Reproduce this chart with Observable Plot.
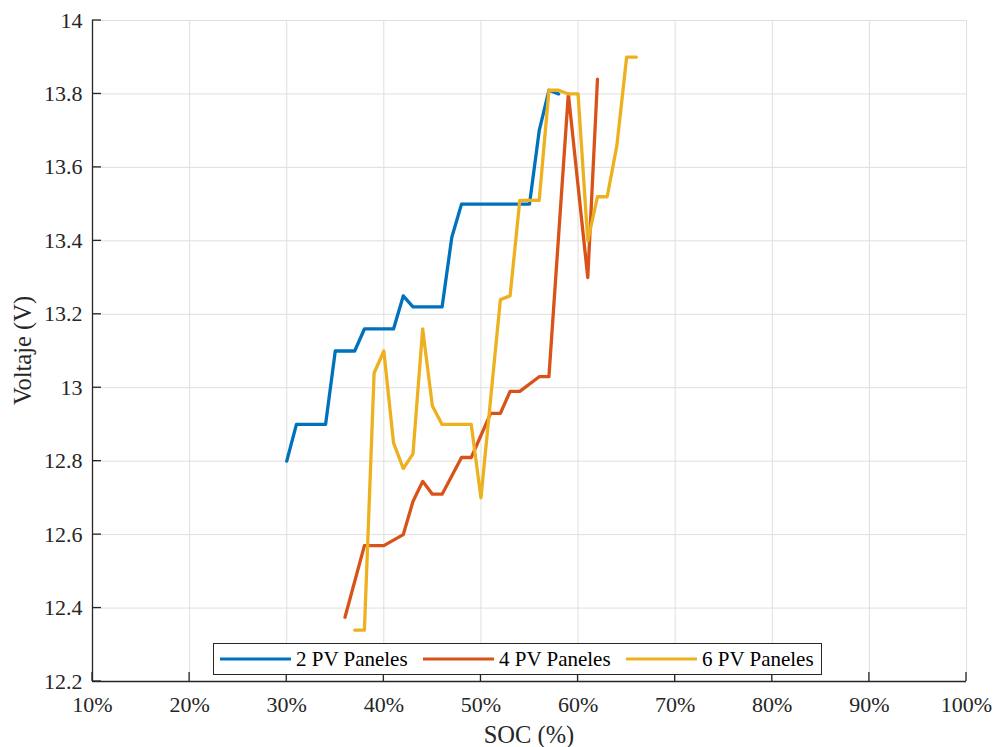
<!DOCTYPE html>
<html><head><meta charset="utf-8">
<script src="https://cdn.jsdelivr.net/npm/d3@7"></script>
<script src="https://cdn.jsdelivr.net/npm/@observablehq/plot@0.6"></script>
<style>
body{margin:0;background:#fff}
</style>
</head><body><div id="chart"></div>
<script>
const series = ["2 PV Paneles", "4 PV Paneles", "6 PV Paneles"];
const colors = ["#0072BD", "#D95319", "#EDB120"];

const soc2 = [30, 31, 34, 35, 37, 38, 41, 42, 43, 46, 47, 48, 55, 56, 57, 58];
const v2   = [12.80, 12.90, 12.90, 13.10, 13.10, 13.16, 13.16, 13.25, 13.22, 13.22, 13.41, 13.50, 13.50, 13.70, 13.81, 13.80];

const soc4 = [36, 38, 40, 42, 43, 44, 45, 46, 48, 49, 51, 52, 53, 54, 56, 57, 59, 61, 62];
const v4   = [12.375, 12.57, 12.57, 12.60, 12.69, 12.745, 12.71, 12.71, 12.81, 12.81, 12.93, 12.93, 12.99, 12.99, 13.03, 13.03, 13.80, 13.30, 13.84];

const soc6 = [37, 38, 39, 40, 41, 42, 43, 44, 45, 46, 49, 50, 52, 53, 54, 56, 57, 58, 59, 60, 61, 62, 63, 64, 65, 66];
const v6   = [12.34, 12.34, 13.04, 13.10, 12.85, 12.78, 12.82, 13.16, 12.95, 12.90, 12.90, 12.70, 13.24, 13.25, 13.51, 13.51, 13.81, 13.81, 13.80, 13.80, 13.40, 13.52, 13.52, 13.66, 13.90, 13.90];

const xTicks = [10, 20, 30, 40, 50, 60, 70, 80, 90, 100];
const yTicks = [12.2, 12.4, 12.6, 12.8, 13, 13.2, 13.4, 13.6, 13.8, 14];

const xLabel = "SOC (%)";
const yLabel = "Voltaje (V)";

const socs = [soc2, soc4, soc6];
const volts = [v2, v4, v6];
const data = series.flatMap((s, i) => socs[i].map((x, j) => ({series: s, soc: x, v: volts[i][j]})));

const axisColor = "#262626";
const gridColor = "#dfdfdf";
const FONT = "Liberation Serif, DejaVu Serif, serif";

const plot = Plot.plot({
  width: 994,
  height: 747,
  marginLeft: 92,
  marginRight: 28,
  marginTop: 20,
  marginBottom: 66,
  style: {background: "#fff"},
  x: {domain: [10, 100]},
  y: {domain: [12.2, 14]},
  color: {domain: series, range: colors},
  marks: [
    Plot.gridX(xTicks, {stroke: gridColor, strokeOpacity: 1}),
    Plot.gridY(yTicks, {stroke: gridColor, strokeOpacity: 1}),
    Plot.axisX(xTicks, {tickSize: 0, tickPadding: 15, tickFormat: d => d + "%", fontSize: 22, fill: axisColor, label: null}),
    Plot.axisY(yTicks, {tickSize: 0, tickPadding: 10, tickFormat: d3.format("~g"), fontSize: 22, fill: axisColor, label: null}),
    Plot.line(data, {x: "soc", y: "v", z: "series", stroke: "series", strokeWidth: 3.3, strokeLinejoin: "round"}),
    Plot.ruleX([10], {stroke: axisColor, strokeWidth: 1.3}),
    Plot.ruleY([12.2], {stroke: axisColor, strokeWidth: 1.3})
  ]
});

document.getElementById("chart").appendChild(plot);

const svg = d3.select(plot);
const sx = v => plot.scale("x").apply(v);
const sy = v => plot.scale("y").apply(v);
const x0 = sx(10), y0 = sy(12.2);

// inward ticks
const tg = svg.append("g").attr("stroke", axisColor).attr("stroke-width", 1.3);
xTicks.forEach(t => tg.append("line").attr("x1", sx(t)).attr("x2", sx(t)).attr("y1", y0).attr("y2", y0 - 9));
yTicks.forEach(t => tg.append("line").attr("x1", x0).attr("x2", x0 + 9).attr("y1", sy(t)).attr("y2", sy(t)));

// axis labels
svg.append("text").attr("x", (sx(10) + sx(100)) / 2).attr("y", 743)
  .attr("text-anchor", "middle").attr("font-size", 24.5).attr("fill", axisColor).text(xLabel);
svg.append("text").attr("transform", `translate(31,${(sy(12.2) + sy(14)) / 2}) rotate(-90)`)
  .attr("text-anchor", "middle").attr("font-size", 24.5).attr("fill", axisColor).text(yLabel);

// legend
const lg = svg.append("g");
lg.append("rect").attr("x", 213.5).attr("y", 643.5).attr("width", 608).attr("height", 31)
  .attr("fill", "#fff").attr("stroke", "#262626").attr("stroke-width", 1);
const itemX = [220, 423, 626];
series.forEach((s, i) => {
  lg.append("line").attr("x1", itemX[i]).attr("x2", itemX[i] + 71).attr("y1", 659).attr("y2", 659)
    .attr("stroke", colors[i]).attr("stroke-width", 3);
  lg.append("text").attr("x", itemX[i] + 76).attr("y", 659).attr("dy", "0.35em")
    .attr("text-anchor", "start").attr("font-size", 21).attr("fill", "#000").text(s);
});

svg.attr("font-family", FONT).style("font-family", FONT);
svg.selectAll("g").attr("font-family", null);
svg.selectAll("text").attr("font-family", FONT).style("font-family", FONT);
</script>
</body></html>
